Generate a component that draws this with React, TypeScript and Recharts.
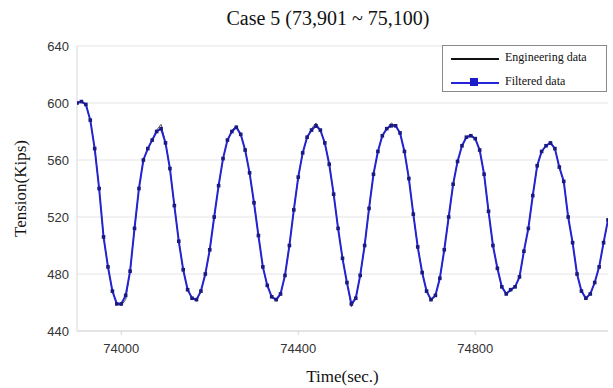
import React from "react";
import { LineChart, Line, XAxis, YAxis, CartesianGrid, Label } from "recharts";

// time axis (sec.), sampled every 10 s
const times: number[] = [];
for (let t = 73900; t <= 75100; t += 10) times.push(t);

// Filtered data (Kips)
const filteredVals = [
  600, 601, 599, 588, 568, 540, 506, 485, 468, 459,
  459, 465, 482, 512, 540, 560, 568, 574, 580, 582,
  572, 554, 528, 503, 483, 469, 463, 462, 468, 480,
  497, 520, 542, 561, 574, 580, 583, 578, 567, 551,
  530, 507, 485, 472, 464, 462, 466, 479, 500, 525,
  548, 565, 576, 581, 584, 581, 572, 557, 536, 512,
  491, 474, 459, 463, 479, 500, 526, 550, 566, 577,
  582, 584, 584, 579, 566, 547, 522, 499, 481, 468,
  462, 465, 477, 497, 520, 543, 559, 570, 576, 577,
  575, 567, 550, 524, 500, 484, 471, 466, 469, 471,
  478, 496, 512, 535, 556, 566, 570, 572, 568, 555,
  545, 520, 502, 480, 468, 463, 466, 474, 485, 502,
  518,
];

// Engineering data (Kips)
const engineeringVals = [
  600, 601, 599, 588, 568, 540, 506, 485, 468, 459,
  458, 462, 482, 512, 540, 560, 568, 574, 581, 585,
  572, 554, 528, 503, 483, 469, 463, 461, 468, 480,
  497, 520, 542, 561, 574, 581, 584, 578, 567, 551,
  530, 507, 485, 472, 464, 461, 466, 479, 500, 525,
  548, 565, 576, 582, 586, 581, 572, 557, 536, 512,
  491, 474, 457, 463, 479, 500, 526, 550, 566, 577,
  582, 586, 584, 579, 566, 547, 522, 499, 481, 468,
  461, 465, 477, 497, 520, 543, 559, 570, 576, 578,
  575, 567, 550, 524, 500, 484, 471, 467, 468, 471,
  478, 496, 512, 535, 556, 566, 570, 573, 568, 555,
  545, 520, 502, 480, 468, 462, 466, 474, 485, 502,
  518,
];

const xTicks = [74000, 74400, 74800];
const yTicks = [440, 480, 520, 560, 600, 640];

const data = times.map((t, i) => ({
  t,
  eng: engineeringVals[i],
  filt: filteredVals[i],
}));

const SquareDot = (props: any) => {
  const { cx, cy, index } = props;
  if (cx == null || cy == null) return <g key={index} />;
  return <rect key={index} x={cx - 1.8} y={cy - 1.8} width={3.6} height={3.6} fill="#1a1a80" />;
};

const serif = "'Liberation Serif', 'DejaVu Serif', serif";
const sans = "'Liberation Sans', Arial, sans-serif";

export default function App() {
  return (
    <div style={{ position: "absolute", left: 0, top: 0, width: 613, height: 388, background: "#fff" }}>
      <div
        style={{
          position: "absolute",
          top: 7,
          left: 0,
          width: 656,
          textAlign: "center",
          fontFamily: serif,
          fontSize: 20,
          color: "#111",
        }}
      >
        Case 5 (73,901 ~ 75,100)
      </div>
      <LineChart width={613} height={388} data={data} margin={{ top: 46, right: 5, bottom: 0, left: 0 }}>
        <CartesianGrid vertical={false} stroke="#e4e4e4" />
        <XAxis
          dataKey="t"
          type="number"
          domain={[73900, 75100]}
          ticks={xTicks}
          allowDataOverflow
          stroke="#d8d8d8"
          tick={{ fill: "#333", fontSize: 13, fontFamily: sans }}
          tickSize={4}
          tickMargin={9}
          height={57}
        >
          <Label
            value="Time(sec.)"
            position="insideBottom"
            offset={6}
            style={{ fontFamily: serif, fontSize: 17, fill: "#111" }}
          />
        </XAxis>
        <YAxis
          type="number"
          domain={[440, 640]}
          ticks={yTicks}
          allowDataOverflow
          stroke="#d8d8d8"
          tickLine={false}
          tick={{ fill: "#333", fontSize: 13, fontFamily: sans }}
          width={77}
        >
          <Label
            value="Tension(Kips)"
            angle={-90}
            position="insideLeft"
            offset={20}
            style={{ fontFamily: serif, fontSize: 17, fill: "#111", textAnchor: "middle" }}
          />
        </YAxis>
        <Line
          type="linear"
          dataKey="eng"
          stroke="#555"
          strokeWidth={1}
          dot={false}
          isAnimationActive={false}
        />
        <Line
          type="linear"
          dataKey="filt"
          stroke="#2424d0"
          strokeWidth={2}
          dot={SquareDot}
          isAnimationActive={false}
        />
      </LineChart>
      <div
        style={{
          position: "absolute",
          left: 442,
          top: 45,
          width: 163,
          height: 45,
          border: "1px solid #8a8a8a",
          background: "#fff",
          fontFamily: serif,
          fontSize: 12,
          color: "#111",
        }}
      >
        <div style={{ position: "absolute", left: 8, top: 12, width: 48, height: 2, background: "#111" }} />
        <div style={{ position: "absolute", left: 62, top: 4 }}>Engineering data</div>
        <div style={{ position: "absolute", left: 8, top: 36, width: 48, height: 1.5, background: "#2424d8" }} />
        <div style={{ position: "absolute", left: 27, top: 32, width: 8, height: 8, background: "#1c1cc8" }} />
        <div style={{ position: "absolute", left: 62, top: 28 }}>Filtered data</div>
      </div>
    </div>
  );
}
